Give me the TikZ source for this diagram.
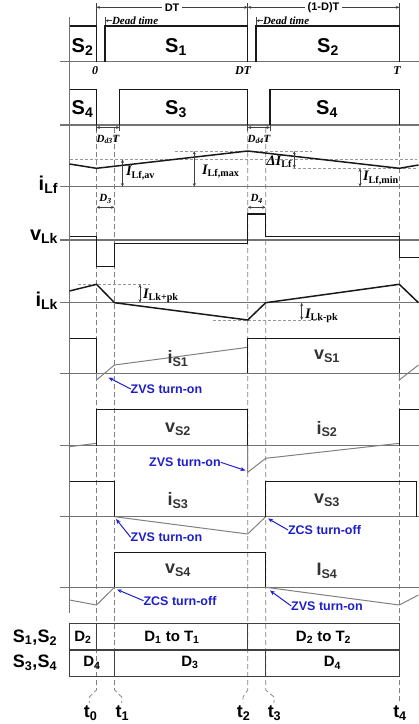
\documentclass[tikz,border=0pt]{standalone}
\usepackage{fontspec}
\setmainfont{Liberation Sans}
\newfontfamily\timesfont{Liberation Serif}
\usetikzlibrary{arrows.meta}
\definecolor{notecol}{RGB}{30,30,200}
\def\tA{96.5}
\def\tB{114.5}
\def\tC{247.7}
\def\tD{265.7}
\def\tE{399.3}
\def\xl{69.5}
\def\xr{418.5}
\begin{document}
\begin{tikzpicture}[
  x=1pt, y=-1pt,
  every node/.style={inner sep=0pt, outer sep=0pt},
  axisline/.style={draw=black!55, line width=1.3pt},
  wave/.style={draw=black!90, line width=1.5pt},
  swave/.style={draw=black!50, line width=1pt},
  guide/.style={draw=black!50, line width=0.7pt, dash pattern=on 5pt off 3pt},
  hguide/.style={draw=black!40, line width=0.6pt, dash pattern=on 3pt off 2pt},
  dimarrow/.style={draw=black!75, line width=0.6pt, {Stealth[length=3.5pt,width=3pt]}-{Stealth[length=3.5pt,width=3pt]}},
  tickline/.style={draw=black!75, line width=0.6pt},
  siglbl/.style={font=\fontsize{20}{20}\selectfont\bfseries},
  wavelbl/.style={font=\fontsize{18}{18}\selectfont\bfseries, text=black!80},
  axislbl/.style={font=\fontsize{20}{20}\selectfont\bfseries, anchor=east},
  periodlbl/.style={font=\fontsize{11}{11}\selectfont\bfseries, fill=white, inner xsep=3pt, inner ysep=1pt},
  timelbl/.style={font=\timesfont\fontsize{12}{12}\selectfont\bfseries\itshape},
  deadlbl/.style={font=\timesfont\fontsize{11}{11}\selectfont\bfseries\itshape, anchor=west},
  dimlbl/.style={font=\timesfont\fontsize{14.5}{14.5}\selectfont\bfseries, anchor=west},
  smalldim/.style={font=\timesfont\fontsize{11}{11}\selectfont\bfseries\itshape},
  swnote/.style={font=\fontsize{12.5}{12.5}\selectfont\bfseries, text=notecol},
  notearrow/.style={draw=notecol, line width=1pt, -{Stealth[length=5pt,width=4pt]}},
  tablecell/.style={font=\fontsize{15}{15}\selectfont\bfseries},
  tablebox/.style={draw=black!75, line width=1.2pt},
  instantlbl/.style={font=\fontsize{18}{18}\selectfont\bfseries}
]
\useasboundingbox (0,0) rectangle (419,724);

\foreach \x/\xb in {\tA/89.3, \tB/121.7, \tC/243, \tD/274, \tE/399.3}
  \draw[guide] (\x,128) -- (\x,690) -- (\xb,697) -- (\xb,703);
\foreach \y in {61.7, 125, 186.7, 240, 302.7, 373.3, 445.7, 516.7, 587.3}
  \draw[axisline] (60,\y) -- (419,\y);
\draw[axisline] (\xl,17) -- (\xl,613);

\foreach \x/\y in {\tA/2.5, \tC/2.5, \tE/2.5, 105/17, 256/17}
  \draw[tickline] (\x,26) -- (\x,\y);
\draw[dimarrow] (\tA,7.3) -- (\tC,7.3) node[periodlbl, midway] (dt) {DT};
\draw[dimarrow] (\tC,7.3) -- (\tE,7.3) node[periodlbl, midway] (odt) {(1-D)T};
\node[deadlbl] (deadA) at (112,20.7) {Dead time};
\node[deadlbl] (deadB) at (263,20.7) {Dead time};
\coordinate (deadAend) at (105.5,20.7);
\coordinate (deadBend) at (256.5,20.7);
\draw[tickline, -{Stealth[length=3pt,width=3pt]}] (deadA.west) -- (deadAend);
\draw[tickline, -{Stealth[length=3pt,width=3pt]}] (deadB.west) -- (deadBend);

\draw[wave] (\xl,26) -- (\tA,26) -- (\tA,61.7);
\draw[wave] (105,61.7) -- (105,26) -- (\tC,26) -- (\tC,61.7);
\draw[wave] (256,61.7) -- (256,26) -- (\tE,26) -- (\tE,61.7);
\node[siglbl] (gS2a) at (82.5,47) {S\textsubscript{2}};
\node[siglbl] (gS1) at (176,47) {S\textsubscript{1}};
\node[siglbl] (gS2b) at (328,47) {S\textsubscript{2}};
\node[timelbl] (lzero) at (95,71) {0};
\node[timelbl] (lDT) at (243,71) {DT};
\node[timelbl] (lT) at (397,71) {T};

\draw[wave] (\xl,89.3) -- (\tA,89.3) -- (\tA,125);
\draw[wave] (119.5,125) -- (119.5,89.3) -- (\tC,89.3) -- (\tC,125);
\draw[wave] (270,125) -- (270,89.3) -- (\tE,89.3) -- (\tE,125);
\node[siglbl] (gS4a) at (82.5,109) {S\textsubscript{4}};
\node[siglbl] (gS3) at (176,109) {S\textsubscript{3}};
\node[siglbl] (gS4b) at (327,109) {S\textsubscript{4}};
\foreach \x in {\tA, 119.5, \tC, 270}
  \draw[tickline] (\x,125) -- (\x,131);
\draw[dimarrow] (\tA,127.5) -- (119.5,127.5);
\draw[dimarrow] (\tC,127.5) -- (270,127.5);
\node[smalldim] (dd3) at (108,139.5) {D\textsubscript{d3}T};
\node[smalldim] (dd4) at (259,139.5) {D\textsubscript{d4}T};

\node[axislbl] (iLf) at (58,185) {i\textsubscript{Lf}};
\draw[hguide] (\xl,159.3) -- (417,159.3);
\draw[hguide] (175,151) -- (312,151);
\draw[hguide] (293,168.3) -- (417,168.3);
\draw[wave] (\xl,164) -- (\tA,168.3) -- (\tC,151) -- (\tE,168.3) -- (\xr,165);
\draw[dimarrow] (122.5,159.3) -- (122.5,186.7);
\draw[dimarrow] (194.3,151) -- (194.3,186.7);
\draw[dimarrow] (294.3,151) -- (294.3,168.3);
\draw[dimarrow] (360,168.3) -- (360,186.7);
\node[dimlbl] (Iav) at (126,173) {\itshape I\textsubscript{\upshape Lf,av}};
\node[dimlbl] (Imax) at (202,171.7) {\itshape I\textsubscript{\upshape Lf,max}};
\node[dimlbl, anchor=east] (dI) at (292,161.7) {\itshape ΔI\textsubscript{\upshape Lf}};
\node[dimlbl] (Imin) at (363,178) {\itshape I\textsubscript{\upshape Lf,min}};

\node[axislbl] (vLk) at (58,237) {v\textsubscript{Lk}};
\draw[wave] (\xl,236.7) -- (\tA,236.7) -- (\tA,266.7) -- (\tB,266.7) -- (\tB,243.3)
  -- (\tC,243.3) -- (\tC,214) -- (\tD,214) -- (\tD,236.7) -- (\tE,236.7) -- (\tE,257.7) -- (\xr,257.7);
\draw[dimarrow] (\tA,207.3) -- (\tB,207.3);
\draw[dimarrow] (\tC,207.3) -- (\tD,207.3);
\node[smalldim] (d3) at (105.5,199) {D\textsubscript{3}};
\node[smalldim] (d4) at (256.7,199) {D\textsubscript{4}};

\node[axislbl] (iLk) at (58,301) {i\textsubscript{Lk}};
\draw[hguide] (78,284.3) -- (150,284.3);
\draw[hguide] (213,320) -- (320,320);
\draw[wave] (\xl,291) -- (\tA,284.3) -- (\tB,302.7) -- (\tC,320) -- (\tD,302.7) -- (\tE,284.3) -- (\xr,302.7);
\draw[dimarrow] (140,284.3) -- (140,302.7);
\draw[dimarrow] (301.7,302.7) -- (301.7,320);
\node[dimlbl] (Ipos) at (143,296) {\itshape I\textsubscript{\upshape Lk+pk}};
\node[dimlbl] (Ineg) at (305,315.7) {\itshape I\textsubscript{\upshape Lk-pk}};

\draw[wave] (\xl,338.3) -- (\tA,338.3) -- (\tA,373.3);
\draw[swave] (\tA,373.3) -- (\tA,380) -- (\tB,365) -- (\tC,347.3);
\draw[wave] (\tC,373.3) -- (\tC,338.3) -- (\tE,338.3) -- (\tE,373.3);
\draw[swave] (\tE,373.3) -- (\tE,380) -- (\xr,365);
\node[wavelbl] (iS1) at (178,358.3) {i\textsubscript{S1}};
\node[wavelbl] (vS1) at (327,356.7) {v\textsubscript{S1}};
\node[swnote] (noteA) at (166.5,389) {ZVS turn-on};
\coordinate (noteAend) at (108.5,377.5);
\draw[notearrow] (noteA.west) -- (noteAend);

\draw[swave] (\xl,446.7) -- (\tA,443.3);
\draw[wave] (\tA,445.7) -- (\tA,409.3) -- (\tC,409.3) -- (\tC,445.7);
\draw[swave] (\tC,445.7) -- (\tC,472.3) -- (\tD,458.3) -- (\tE,443.3);
\draw[wave] (\tE,445.7) -- (\tE,409.3) -- (\xr,409.3);
\node[wavelbl] (vS2) at (178,429) {v\textsubscript{S2}};
\node[wavelbl] (iS2) at (327,429) {i\textsubscript{S2}};
\node[swnote] (noteB) at (185,462.3) {ZVS turn-on};
\coordinate (noteBend) at (245.5,470.5);
\draw[notearrow] (noteB.east) -- (noteBend);

\draw[wave] (\xl,481.7) -- (\tB,481.7) -- (\tB,516.7);
\draw[swave] (\tB,516.7) -- (\tC,534) -- (\tD,516.7);
\draw[wave] (\tD,516.7) -- (\tD,481.7) -- (416.7,481.7) -- (416.7,516.7);
\node[wavelbl] (iS3) at (178,500.7) {i\textsubscript{S3}};
\node[wavelbl] (vS3) at (327,500.7) {v\textsubscript{S3}};
\node[swnote] (noteC) at (166.5,537.3) {ZVS turn-on};
\node[swnote] (noteD) at (324.5,530) {ZCS turn-off};
\coordinate (noteCend) at (116,519);
\coordinate (noteDend) at (268,518.5);
\draw[notearrow] (noteC.west) -- (noteCend);
\draw[notearrow] (noteD.west) -- (noteDend);

\draw[swave] (\xl,600) -- (\tA,605) -- (\tB,587.3);
\draw[wave] (\tB,587.3) -- (\tB,552.7) -- (\tD,552.7) -- (\tD,587.3);
\draw[swave] (\tD,587.3) -- (\tE,605) -- (\xr,595);
\node[wavelbl] (vS4) at (178,570.7) {v\textsubscript{S4}};
\node[wavelbl] (IS4) at (327,570.7) {I\textsubscript{S4}};
\node[swnote] (noteE) at (180,600.7) {ZCS turn-off};
\node[swnote] (noteF) at (327,606) {ZVS turn-on};
\coordinate (noteEend) at (117,589.5);
\coordinate (noteFend) at (270,590.5);
\draw[notearrow] (noteE.west) -- (noteEend);
\draw[notearrow] (noteF.west) -- (noteFend);

\draw[tablebox] (\xl,623.3) rectangle (\tE,676.7);
\draw[tablebox] (\xl,650) -- (\tE,650);
\draw[tablebox] (\tA,623.3) -- (\tA,650) (\tC,623.3) -- (\tC,650);
\draw[tablebox] (\tB,650) -- (\tB,676.7) (\tD,650) -- (\tD,676.7);
\node[siglbl, font=\fontsize{18}{18}\selectfont\bfseries] (rowA) at (35,637.3) {S\textsubscript{1},S\textsubscript{2}};
\node[siglbl, font=\fontsize{18}{18}\selectfont\bfseries] (rowB) at (35,662.7) {S\textsubscript{3},S\textsubscript{4}};
\node[tablecell] (cA) at (83,637.3) {D\textsubscript{2}};
\node[tablecell] (cB) at (172,637.3) {D\textsubscript{1} to T\textsubscript{1}};
\node[tablecell] (cC) at (323.5,637.3) {D\textsubscript{2} to T\textsubscript{2}};
\node[tablecell] (cD) at (92,662.7) {D\textsubscript{4}};
\node[tablecell] (cE) at (190,662.7) {D\textsubscript{3}};
\node[tablecell] (cF) at (332.5,662.7) {D\textsubscript{4}};

\foreach \xb/\n in {90.7/0, 122.5/1, 243.7/2, 274.5/3, 400/4}
  \node[instantlbl] (t\n) at (\xb,713) {t\textsubscript{\n}};
\end{tikzpicture}
\end{document}
